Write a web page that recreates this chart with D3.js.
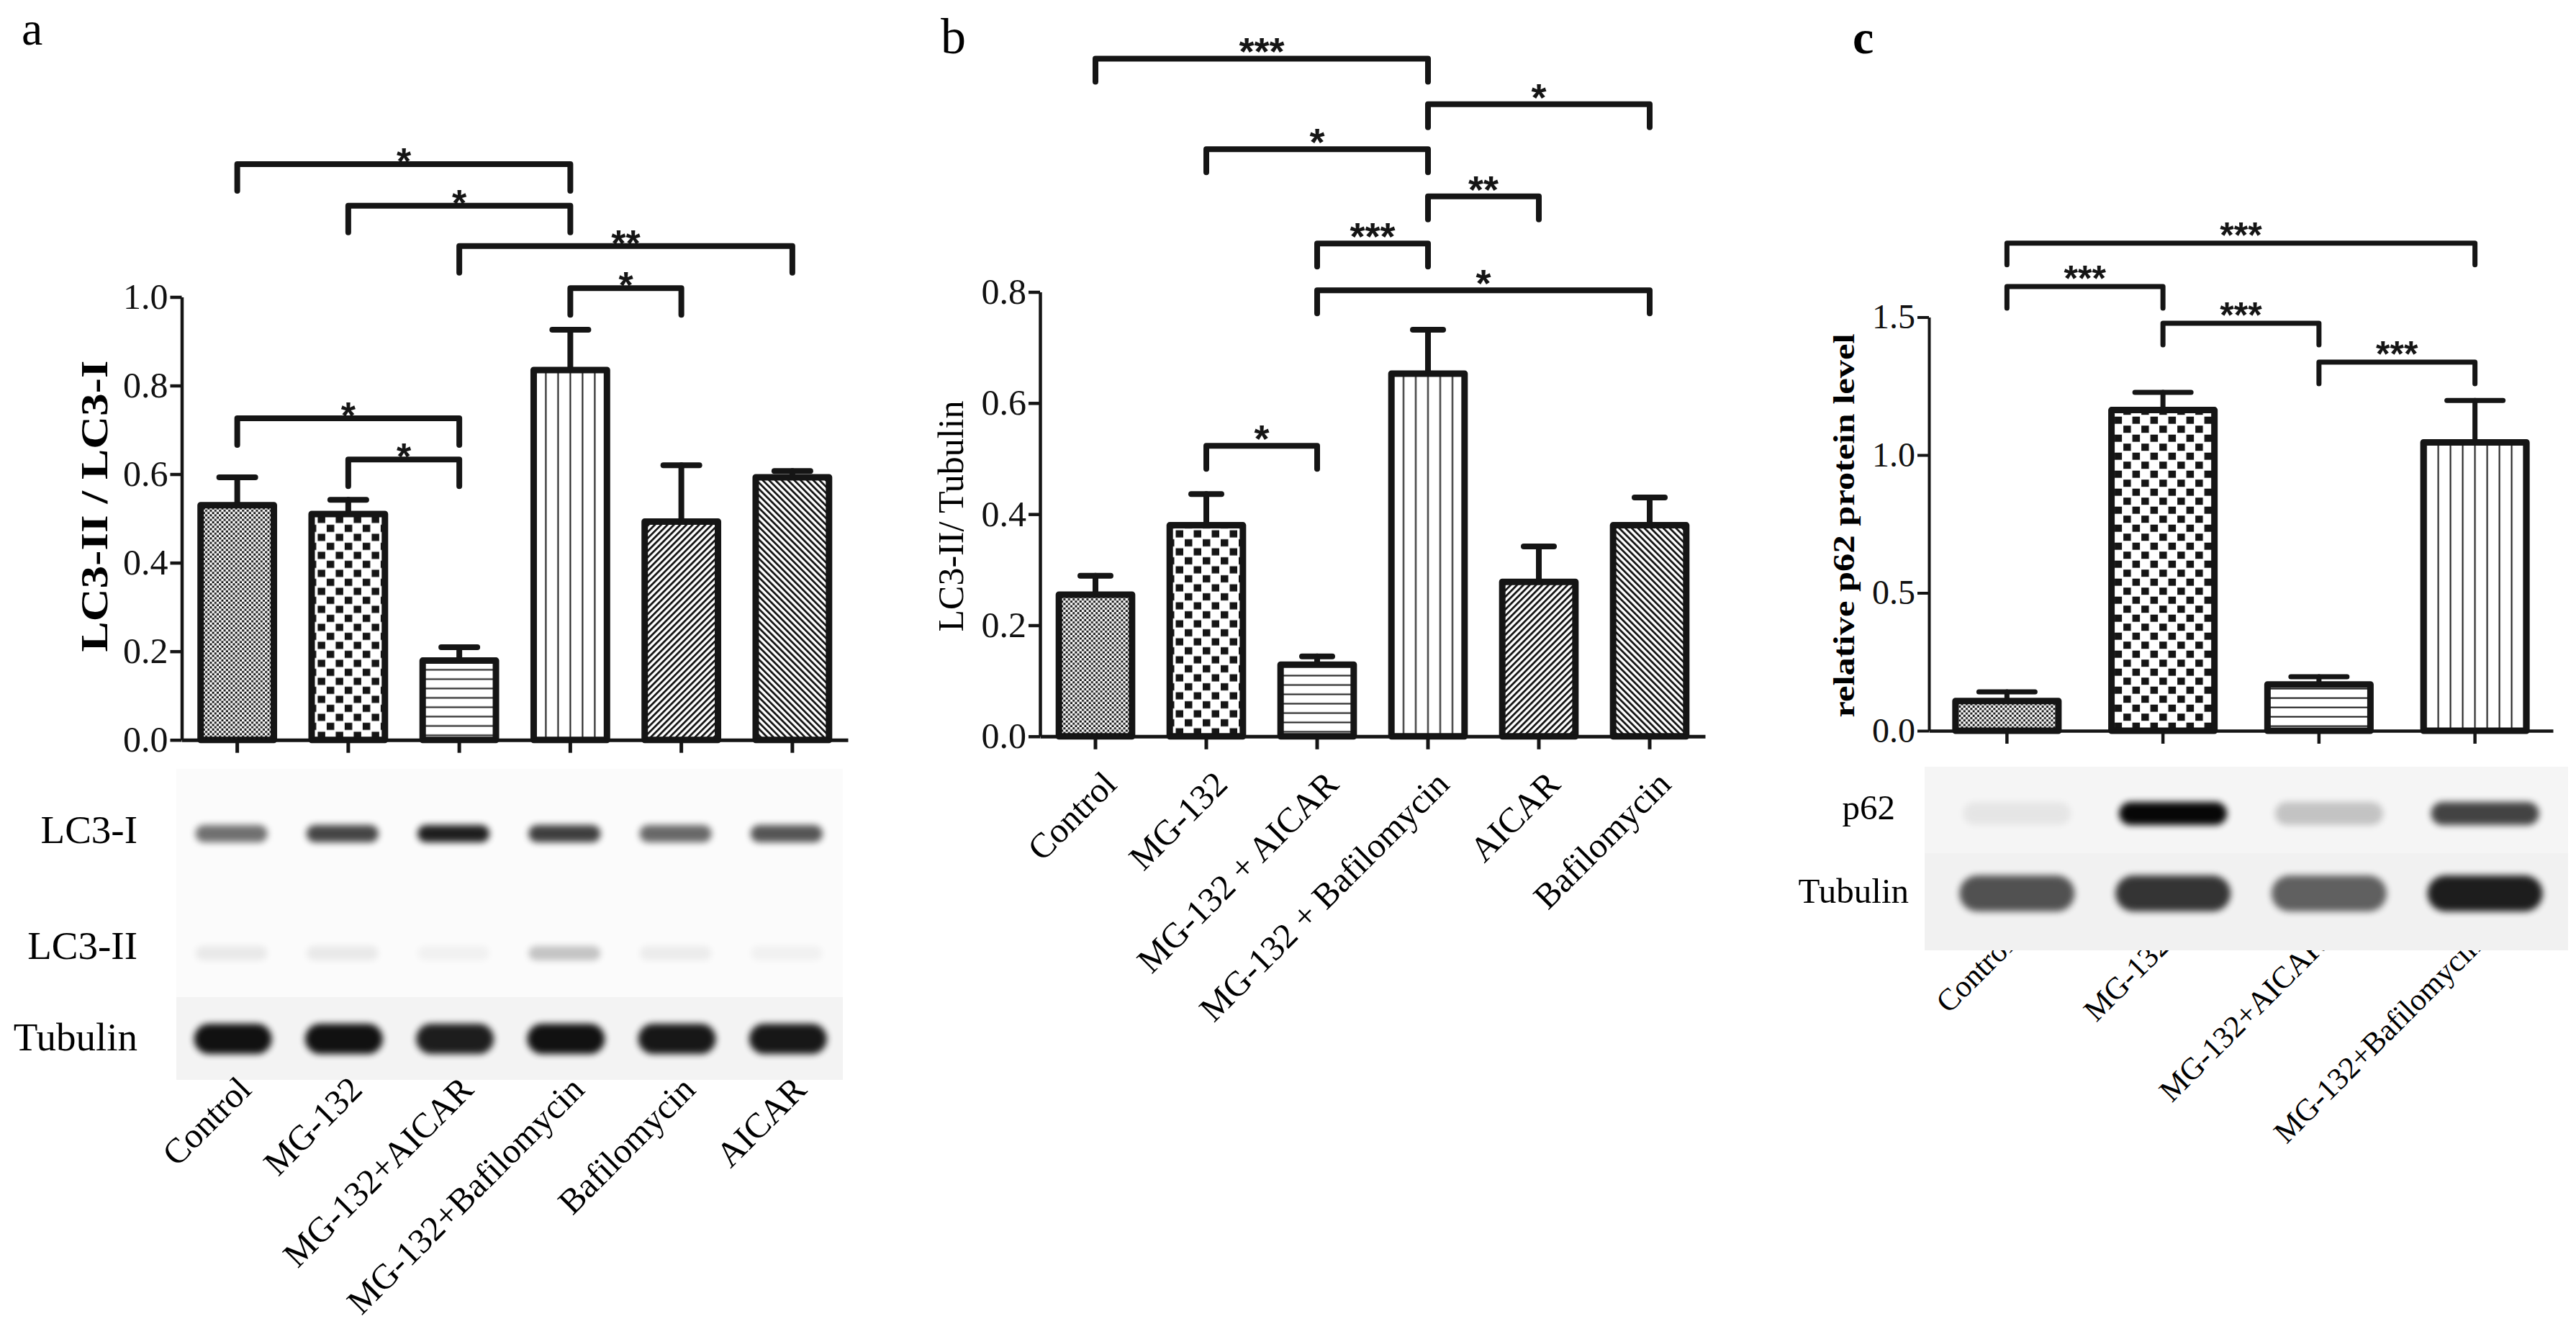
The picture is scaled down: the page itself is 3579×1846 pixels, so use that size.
<!DOCTYPE html>
<html>
<head>
<meta charset="utf-8">
<script src="https://cdnjs.cloudflare.com/ajax/libs/d3/7.8.5/d3.min.js"></script>
<style>
  body { margin: 0; background: #fff; }
</style>
</head>
<body>
<script>
// ---- panel a : LC3-II / LC3-I ----
var catsA = ["Control", "MG-132", "MG-132+AICAR", "MG-132+Bafilomycin", "Bafilomycin", "AICAR"];
var meanA = [0.530, 0.510, 0.179, 0.835, 0.493, 0.593];
var errA = [0.063, 0.032, 0.030, 0.091, 0.127, 0.014];
var ticksA = [0, 0.2, 0.4, 0.6, 0.8, 1.0];
// [from, to, height (axis units), label]
var sigA = [[0, 3, 1.300, "*"], [1, 3, 1.206, "*"], [2, 5, 1.115, "**"], [3, 4, 1.020, "*"],
            [0, 2, 0.726, "*"], [1, 2, 0.633, "*"]];
var lc3IBands = [0.55, 0.72, 0.88, 0.75, 0.58, 0.66];
var lc3IIBands = [0.07, 0.07, 0.04, 0.22, 0.06, 0.04];
var tubBandsA = [0.93, 0.93, 0.88, 0.93, 0.9, 0.9];

// ---- panel b : LC3-II / Tubulin ----
var catsB = ["Control", "MG-132", "MG-132 + AICAR", "MG-132 + Bafilomycin", "AICAR", "Bafilomycin"];
var meanB = [0.255, 0.380, 0.129, 0.653, 0.278, 0.380];
var errB = [0.034, 0.056, 0.015, 0.079, 0.064, 0.050];
var ticksB = [0, 0.2, 0.4, 0.6, 0.8];
var sigB = [[0, 3, 1.220, "***"], [3, 5, 1.138, "*"], [1, 3, 1.057, "*"], [3, 4, 0.972, "**"],
            [2, 3, 0.887, "***"], [2, 5, 0.803, "*"], [1, 2, 0.523, "*"]];

// ---- panel c : relative p62 ----
var catsC = ["Control", "MG-132", "MG-132+AICAR", "MG-132+Bafilomycin"];
var meanC = [0.108, 1.163, 0.168, 1.046];
var errC = [0.033, 0.064, 0.028, 0.152];
var ticksC = [0, 0.5, 1.0, 1.5];
var sigC = [[0, 3, 1.768, "***"], [0, 1, 1.611, "***"], [1, 2, 1.478, "***"], [2, 3, 1.337, "***"]];
var p62Bands = [0.06, 0.97, 0.2, 0.72];
var tubBandsC = [0.66, 0.78, 0.6, 0.88];

var ink = "#151515";
var serif = "'Liberation Serif', 'Times New Roman', serif";
var sans = "'Liberation Sans', Arial, sans-serif";
var kinds = ["fine", "coarse", "hlines", "vlines", "diagUp", "diagDown"];

var svg = d3.select("body").append("svg").attr("width", 3579).attr("height", 1846);
svg.append("rect").attr("width", 3579).attr("height", 1846).attr("fill", "#fff");
var defs = svg.append("defs");
defs.append("filter").attr("id", "blur")
    .attr("x", "-30%").attr("y", "-100%").attr("width", "160%").attr("height", "300%")
    .append("feGaussianBlur").attr("stdDeviation", 5);

// fill pattern for one bar, anchored on the bar so the stripes sit the same way
function makePattern(id, kind, cx, base) {
    var p = defs.append("pattern").attr("id", id).attr("patternUnits", "userSpaceOnUse");
    function blk(x, y, w, h) {
        p.append("rect").attr("x", x).attr("y", y).attr("width", w).attr("height", h).attr("fill", ink);
    }
    if (kind == "fine") {
        p.attr("width", 6.4).attr("height", 6.4).attr("x", cx).attr("y", base);
        p.append("rect").attr("width", 6.4).attr("height", 6.4).attr("fill", "#fff");
        blk(0.2, 0.2, 3, 3); blk(3.4, 3.4, 3, 3);
    } else if (kind == "coarse") {
        p.attr("width", 25).attr("height", 25).attr("x", cx - 6).attr("y", base);
        p.append("rect").attr("width", 25).attr("height", 25).attr("fill", "#fff");
        blk(1, 1.2, 10.5, 10); blk(13.5, 13.7, 10.5, 10);
    } else if (kind == "hlines") {
        p.attr("width", 10).attr("height", 13).attr("x", 0).attr("y", base);
        p.append("rect").attr("width", 10).attr("height", 13).attr("fill", "#fff");
        blk(0, 5.6, 10, 2);
    } else if (kind == "vlines") {
        p.attr("width", 17).attr("height", 10).attr("x", cx - 8.5).attr("y", 0);
        p.append("rect").attr("width", 17).attr("height", 10).attr("fill", "#fff");
        blk(7.5, 0, 2, 10);
    } else {
        p.attr("width", 6.2).attr("height", 10).attr("x", cx).attr("y", 0)
            .attr("patternTransform", kind == "diagUp" ? "rotate(45)" : "rotate(-45)");
        p.append("rect").attr("width", 6.2).attr("height", 10).attr("fill", "#fff");
        blk(0, 0, 2.8, 10);
    }
}

function drawPanel(o) {
    var x = d3.scaleBand().domain(o.cats).range([o.left, o.right]).paddingInner(0.34).paddingOuter(0.17);
    var y = d3.scaleLinear().domain([0, o.max]).range([o.base, o.top]);
    var bw = x.bandwidth();
    var g = svg.append("g");
    var rows = o.cats.map(function(c, i) { return {cat: c, mean: o.means[i], err: o.errs[i], i: i}; });

    rows.forEach(function(d) {
        makePattern(o.id + "-p" + d.i, kinds[d.i], x(d.cat) + bw / 2, o.base);
    });

    // error bars (behind the bars)
    var eb = g.append("g").attr("stroke", ink).attr("stroke-width", o.ebw).attr("stroke-linecap", "round");
    eb.selectAll(".stem").data(rows).join("line")
        .attr("x1", d => x(d.cat) + bw / 2).attr("x2", d => x(d.cat) + bw / 2)
        .attr("y1", d => y(d.mean)).attr("y2", d => y(d.mean + d.err));
    eb.selectAll(".cap").data(rows).join("line")
        .attr("x1", d => x(d.cat) + bw / 2 - o.cap).attr("x2", d => x(d.cat) + bw / 2 + o.cap)
        .attr("y1", d => y(d.mean + d.err)).attr("y2", d => y(d.mean + d.err));

    g.selectAll("rect.bar").data(rows).join("rect")
        .attr("class", "bar")
        .attr("x", d => x(d.cat)).attr("width", bw)
        .attr("y", d => y(d.mean)).attr("height", d => o.base - y(d.mean))
        .attr("fill", d => "url(#" + o.id + "-p" + d.i + ")")
        .attr("stroke", ink).attr("stroke-width", o.barw).attr("stroke-linejoin", "round");

    // axes
    var ya = g.append("g").attr("transform", "translate(" + o.left + ",0)")
        .call(d3.axisLeft(y).tickValues(o.ticks).tickFormat(d3.format(".1f")).tickSize(16).tickSizeOuter(0).tickPadding(3));
    ya.attr("font-family", serif).attr("font-size", o.tickFont).attr("color", ink);
    ya.selectAll("path, line").attr("stroke-width", o.axw);
    ya.selectAll("text").attr("fill", "#111");

    var xa = g.append("g").attr("transform", "translate(0," + o.base + ")")
        .call(d3.axisBottom(x).tickSize(18).tickSizeOuter(0).tickFormat(""));
    xa.attr("color", ink);
    xa.selectAll("path, line").attr("stroke-width", o.axw + 0.5);

    // significance brackets
    var sg = g.append("g");
    o.sig.forEach(function(s) {
        var x1 = x(o.cats[s[0]]) + bw / 2, x2 = x(o.cats[s[1]]) + bw / 2, yy = y(s[2]);
        sg.append("path")
            .attr("d", "M" + x1 + "," + (yy + o.leg) + "V" + yy + "H" + x2 + "V" + (yy + o.leg))
            .attr("fill", "none").attr("stroke", ink).attr("stroke-width", o.brw)
            .attr("stroke-linecap", "round").attr("stroke-linejoin", "round");
        sg.append("text").attr("x", (x1 + x2) / 2).attr("y", yy + o.starDy)
            .attr("text-anchor", "middle").attr("font-family", sans).attr("font-size", o.starFont)
            .attr("font-weight", "bold").attr("fill", ink).text(s[3]);
    });

    // category labels
    g.selectAll("text.xl").data(o.cats).join("text")
        .attr("class", "xl")
        .attr("transform", d => "translate(" + (x(d) + bw / 2 + o.labDx) + "," + o.labY + ") rotate(-45)")
        .attr("text-anchor", "end").attr("font-family", serif).attr("font-size", o.labFont)
        .attr("fill", "#000").text(d => d);

    // y title; anchored at its start so a forced length stays centred
    var t = g.append("text")
        .attr("transform", "translate(" + o.titleX + "," + o.titleY + ") rotate(-90)")
        .attr("font-family", serif).attr("font-size", o.titleFont)
        .attr("font-weight", o.titleBold ? "bold" : "normal").attr("fill", "#000").text(o.title);
    if (o.titleLen) {
        t.attr("x", -o.titleLen / 2).attr("text-anchor", "start")
            .attr("textLength", o.titleLen).attr("lengthAdjust", "spacingAndGlyphs");
    } else {
        t.attr("text-anchor", "middle");
    }

    g.append("text").attr("x", o.letterX).attr("y", o.letterY)
        .attr("font-family", serif).attr("font-size", o.letterFont)
        .attr("font-weight", o.letterBold ? "bold" : "normal").attr("fill", "#000").text(o.letter);

    return {x: x, bw: bw};
}

function drawBands(vals, cats, sc, dx, cy, w, h) {
    svg.append("g").selectAll("rect").data(vals).join("rect")
        .attr("x", (d, i) => sc.x(cats[i]) + sc.bw / 2 + dx - w / 2).attr("width", w)
        .attr("y", cy - h / 2).attr("height", h).attr("rx", h / 2)
        .attr("fill", "#000").attr("opacity", d => d)
        .attr("filter", "url(#blur)");
}

function blotLabel(txt, xEnd, yBase, size) {
    svg.append("text").attr("x", xEnd).attr("y", yBase).attr("text-anchor", "end")
        .attr("font-family", serif).attr("font-size", size).attr("fill", "#000").text(txt);
}

// ---------- panel a ----------
var blotA = svg.append("g");
blotA.append("rect").attr("x", 245).attr("y", 1068).attr("width", 926).attr("height", 432).attr("fill", "#fbfbfb");
blotA.append("rect").attr("x", 245).attr("y", 1385).attr("width", 926).attr("height", 115).attr("fill", "#f3f3f3");

var scA = drawPanel({
    id: "a", cats: catsA, means: meanA, errs: errA, ticks: ticksA, sig: sigA,
    left: 252.5, right: 1178, base: 1027.7, top: 412.5, max: 1.0,
    barw: 9, ebw: 8, cap: 25, axw: 4.5, brw: 8, leg: 37, starFont: 52, starDy: 14,
    tickFont: 50, labFont: 49, labDx: 22, labY: 1516,
    title: "LC3-II / LC3-I", titleX: 149, titleY: 703, titleFont: 52, titleBold: true, titleLen: 405,
    letter: "a", letterX: 30, letterY: 62, letterFont: 66
});
drawBands(lc3IBands, catsA, scA, -8, 1158, 100, 24);
drawBands(lc3IIBands, catsA, scA, -8, 1324, 100, 20);
drawBands(tubBandsA, catsA, scA, -6, 1443, 108, 42);
blotLabel("LC3-I", 191, 1171, 55);
blotLabel("LC3-II", 191, 1332, 55);
blotLabel("Tubulin", 191, 1459, 55);

// ---------- panel b ----------
drawPanel({
    id: "b", cats: catsB, means: meanB, errs: errB, ticks: ticksB, sig: sigB,
    left: 1445, right: 2369, base: 1022.8, top: 405.5, max: 0.8,
    barw: 9, ebw: 8, cap: 21, axw: 4.5, brw: 8, leg: 32, starFont: 54, starDy: 9,
    tickFont: 50, labFont: 49, labDx: 32, labY: 1092,
    title: "LC3-II/ Tubulin", titleX: 1338, titleY: 717, titleFont: 50, titleBold: false,
    letter: "b", letterX: 1307, letterY: 74, letterFont: 70
});

// ---------- panel c ----------
var scC = drawPanel({
    id: "c", cats: catsC, means: meanC, errs: errC, ticks: ticksC, sig: sigC,
    left: 2680, right: 3547, base: 1015, top: 440.5, max: 1.5,
    barw: 9, ebw: 7, cap: 39, axw: 4, brw: 7, leg: 30, starFont: 50, starDy: 6,
    tickFont: 48, labFont: 43, labDx: 12, labY: 1316,
    title: "relative p62 protein level", titleX: 2576, titleY: 730, titleFont: 42, titleBold: true, titleLen: 533,
    letter: "c", letterX: 2574, letterY: 74, letterFont: 66, letterBold: true
});
// the blot image sits over the ends of the category labels
var blotC = svg.append("g");
blotC.append("rect").attr("x", 2674).attr("y", 1065).attr("width", 894).attr("height", 255).attr("fill", "#f1f1f1");
blotC.append("rect").attr("x", 2674).attr("y", 1065).attr("width", 894).attr("height", 120).attr("fill", "#f5f5f5");
drawBands(p62Bands, catsC, scC, 14, 1130, 150, 32);
drawBands(tubBandsC, catsC, scC, 14, 1241, 160, 50);
blotLabel("p62", 2633, 1138, 49);
blotLabel("Tubulin", 2652, 1254, 49);
</script>
</body>
</html>
